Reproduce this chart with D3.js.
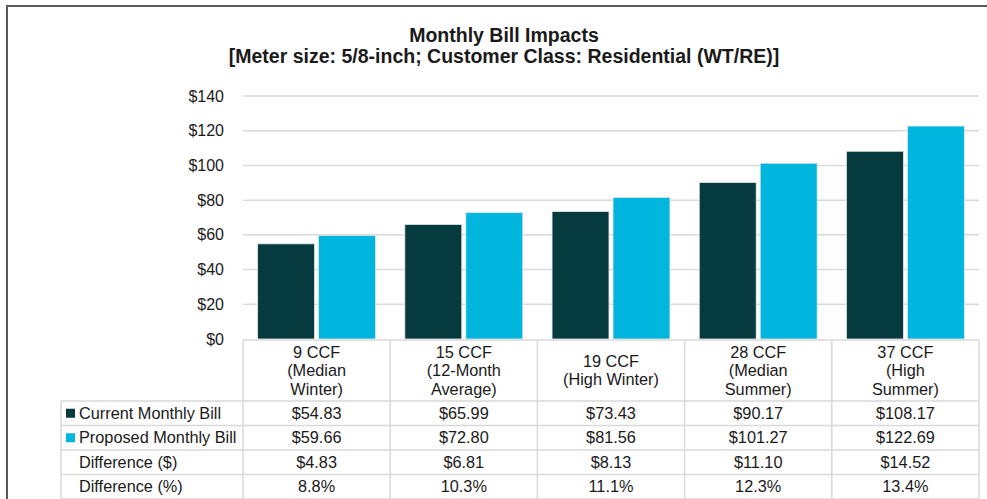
<!DOCTYPE html>
<html>
<head>
<meta charset="utf-8">
<script src="https://cdn.jsdelivr.net/npm/d3@7"></script>
<style>
  body { margin: 0; background: #fff; }
  svg text { font-family: Arial, "Liberation Sans", sans-serif; fill: #1a1a1a; }
  .title { font-weight: bold; font-size: 19.5px; }
</style>
</head>
<body>
<svg width="987" height="499"></svg>
<script>
const categories = [
  ["9 CCF", "(Median", "Winter)"],
  ["15 CCF", "(12-Month", "Average)"],
  ["19 CCF", "(High Winter)"],
  ["28 CCF", "(Median", "Summer)"],
  ["37 CCF", "(High", "Summer)"]
];
const current = [54.83, 65.99, 73.43, 90.17, 108.17];
const proposed = [59.66, 72.80, 81.56, 101.27, 122.69];
const diffDollar = [4.83, 6.81, 8.13, 11.10, 14.52];
const diffPct = [8.8, 10.3, 11.1, 12.3, 13.4];
const yTicks = [0, 20, 40, 60, 80, 100, 120, 140];

const series = ["current", "proposed"];
const colors = { current: "#053a3f", proposed: "#00b6de" };

const svg = d3.select("svg");

// outer frame
svg.append("path")
  .attr("d", "M7,499 V6 H987")
  .attr("fill", "none")
  .attr("stroke", "#5a5a5a")
  .attr("stroke-width", 2);

svg.append("text").attr("class", "title")
  .attr("x", 504).attr("y", 42).attr("text-anchor", "middle")
  .text("Monthly Bill Impacts");
svg.append("text").attr("class", "title")
  .attr("x", 504).attr("y", 63).attr("text-anchor", "middle")
  .text("[Meter size: 5/8-inch; Customer Class: Residential (WT/RE)]");

const x = d3.scaleBand().domain(d3.range(categories.length)).range([243, 979]);
const xs = d3.scaleBand().domain(series).range([0, x.bandwidth()])
  .paddingInner(0.066).paddingOuter(0.24);
const y = d3.scaleLinear().domain([0, 140]).range([339, 96]);

// gridlines
svg.append("g").selectAll("line").data(yTicks.slice(1)).enter()
  .append("line")
  .attr("x1", 243).attr("x2", 979)
  .attr("y1", d => y(d)).attr("y2", d => y(d))
  .attr("stroke", "#d9d9d9").attr("stroke-width", 1.5);

const yAxis = svg.append("g")
  .attr("transform", "translate(224,0)")
  .call(d3.axisLeft(y).tickValues(yTicks).tickSize(0).tickPadding(0).tickFormat(d => "$" + d));
yAxis.select(".domain").remove();
yAxis.selectAll("text").style("font-size", "16px").style("fill", "#1a1a1a");

// bars
const rows = categories.map((c, i) => ({ i: i, current: current[i], proposed: proposed[i] }));
svg.append("g").selectAll("g").data(rows).enter()
  .append("g")
  .attr("transform", d => "translate(" + x(d.i) + ",0)")
  .selectAll("rect")
  .data(d => series.map(k => ({ key: k, value: d[k] })))
  .enter().append("rect")
  .attr("x", d => xs(d.key))
  .attr("width", xs.bandwidth())
  .attr("y", d => y(d.value))
  .attr("height", d => y(0) - y(d.value))
  .attr("fill", d => colors[d.key])
  .attr("stroke", "#e8e8e8")
  .attr("stroke-width", 0.8);

// data table
const tableTop = 340, headerBottom = 401, rowH = 24.5, legendLeft = 61;
const fs = "16.3px";
const tableLines = svg.append("g").attr("stroke", "#d9d9d9").attr("stroke-width", 1.5);
const xEdges = d3.range(categories.length).map(i => x(i)).concat([x.range()[1]]);
xEdges.forEach(xx => {
  tableLines.append("line").attr("x1", xx).attr("x2", xx).attr("y1", tableTop).attr("y2", 499);
});
tableLines.append("line").attr("x1", 243).attr("x2", 979).attr("y1", tableTop).attr("y2", tableTop);
tableLines.append("line").attr("x1", legendLeft).attr("x2", legendLeft).attr("y1", headerBottom).attr("y2", 499);
for (let r = 0; r <= 4; r++) {
  const yy = headerBottom + r * rowH;
  tableLines.append("line").attr("x1", legendLeft).attr("x2", 979).attr("y1", yy).attr("y2", yy);
}

// header labels
categories.forEach((lines, i) => {
  const cx = x(i) + x.bandwidth() / 2;
  const lh = 18.5;
  const y0 = (tableTop + headerBottom) / 2 - (lines.length - 1) * lh / 2 + 5.5;
  const t = svg.append("text").attr("text-anchor", "middle").style("font-size", fs);
  lines.forEach((s, k) => {
    t.append("tspan").attr("x", cx).attr("y", y0 + k * lh).text(s);
  });
});

const tableRows = [
  { label: "Current Monthly Bill", swatch: colors.current, values: current.map(v => "$" + v.toFixed(2)) },
  { label: "Proposed Monthly Bill", swatch: colors.proposed, values: proposed.map(v => "$" + v.toFixed(2)) },
  { label: "Difference ($)", swatch: null, values: diffDollar.map(v => "$" + v.toFixed(2)) },
  { label: "Difference (%)", swatch: null, values: diffPct.map(v => v.toFixed(1) + "%") }
];

tableRows.forEach((row, r) => {
  const cy = headerBottom + r * rowH + rowH / 2;
  if (row.swatch) {
    svg.append("rect").attr("x", 66).attr("y", cy - 4.5).attr("width", 9).attr("height", 9)
      .attr("fill", row.swatch);
  }
  svg.append("text").attr("x", 79).attr("y", cy + 5.5)
    .style("font-size", fs).text(row.label);
  row.values.forEach((v, i) => {
    svg.append("text").attr("x", x(i) + x.bandwidth() / 2).attr("y", cy + 5.5)
      .attr("text-anchor", "middle").style("font-size", fs).text(v);
  });
});
</script>
</body>
</html>
